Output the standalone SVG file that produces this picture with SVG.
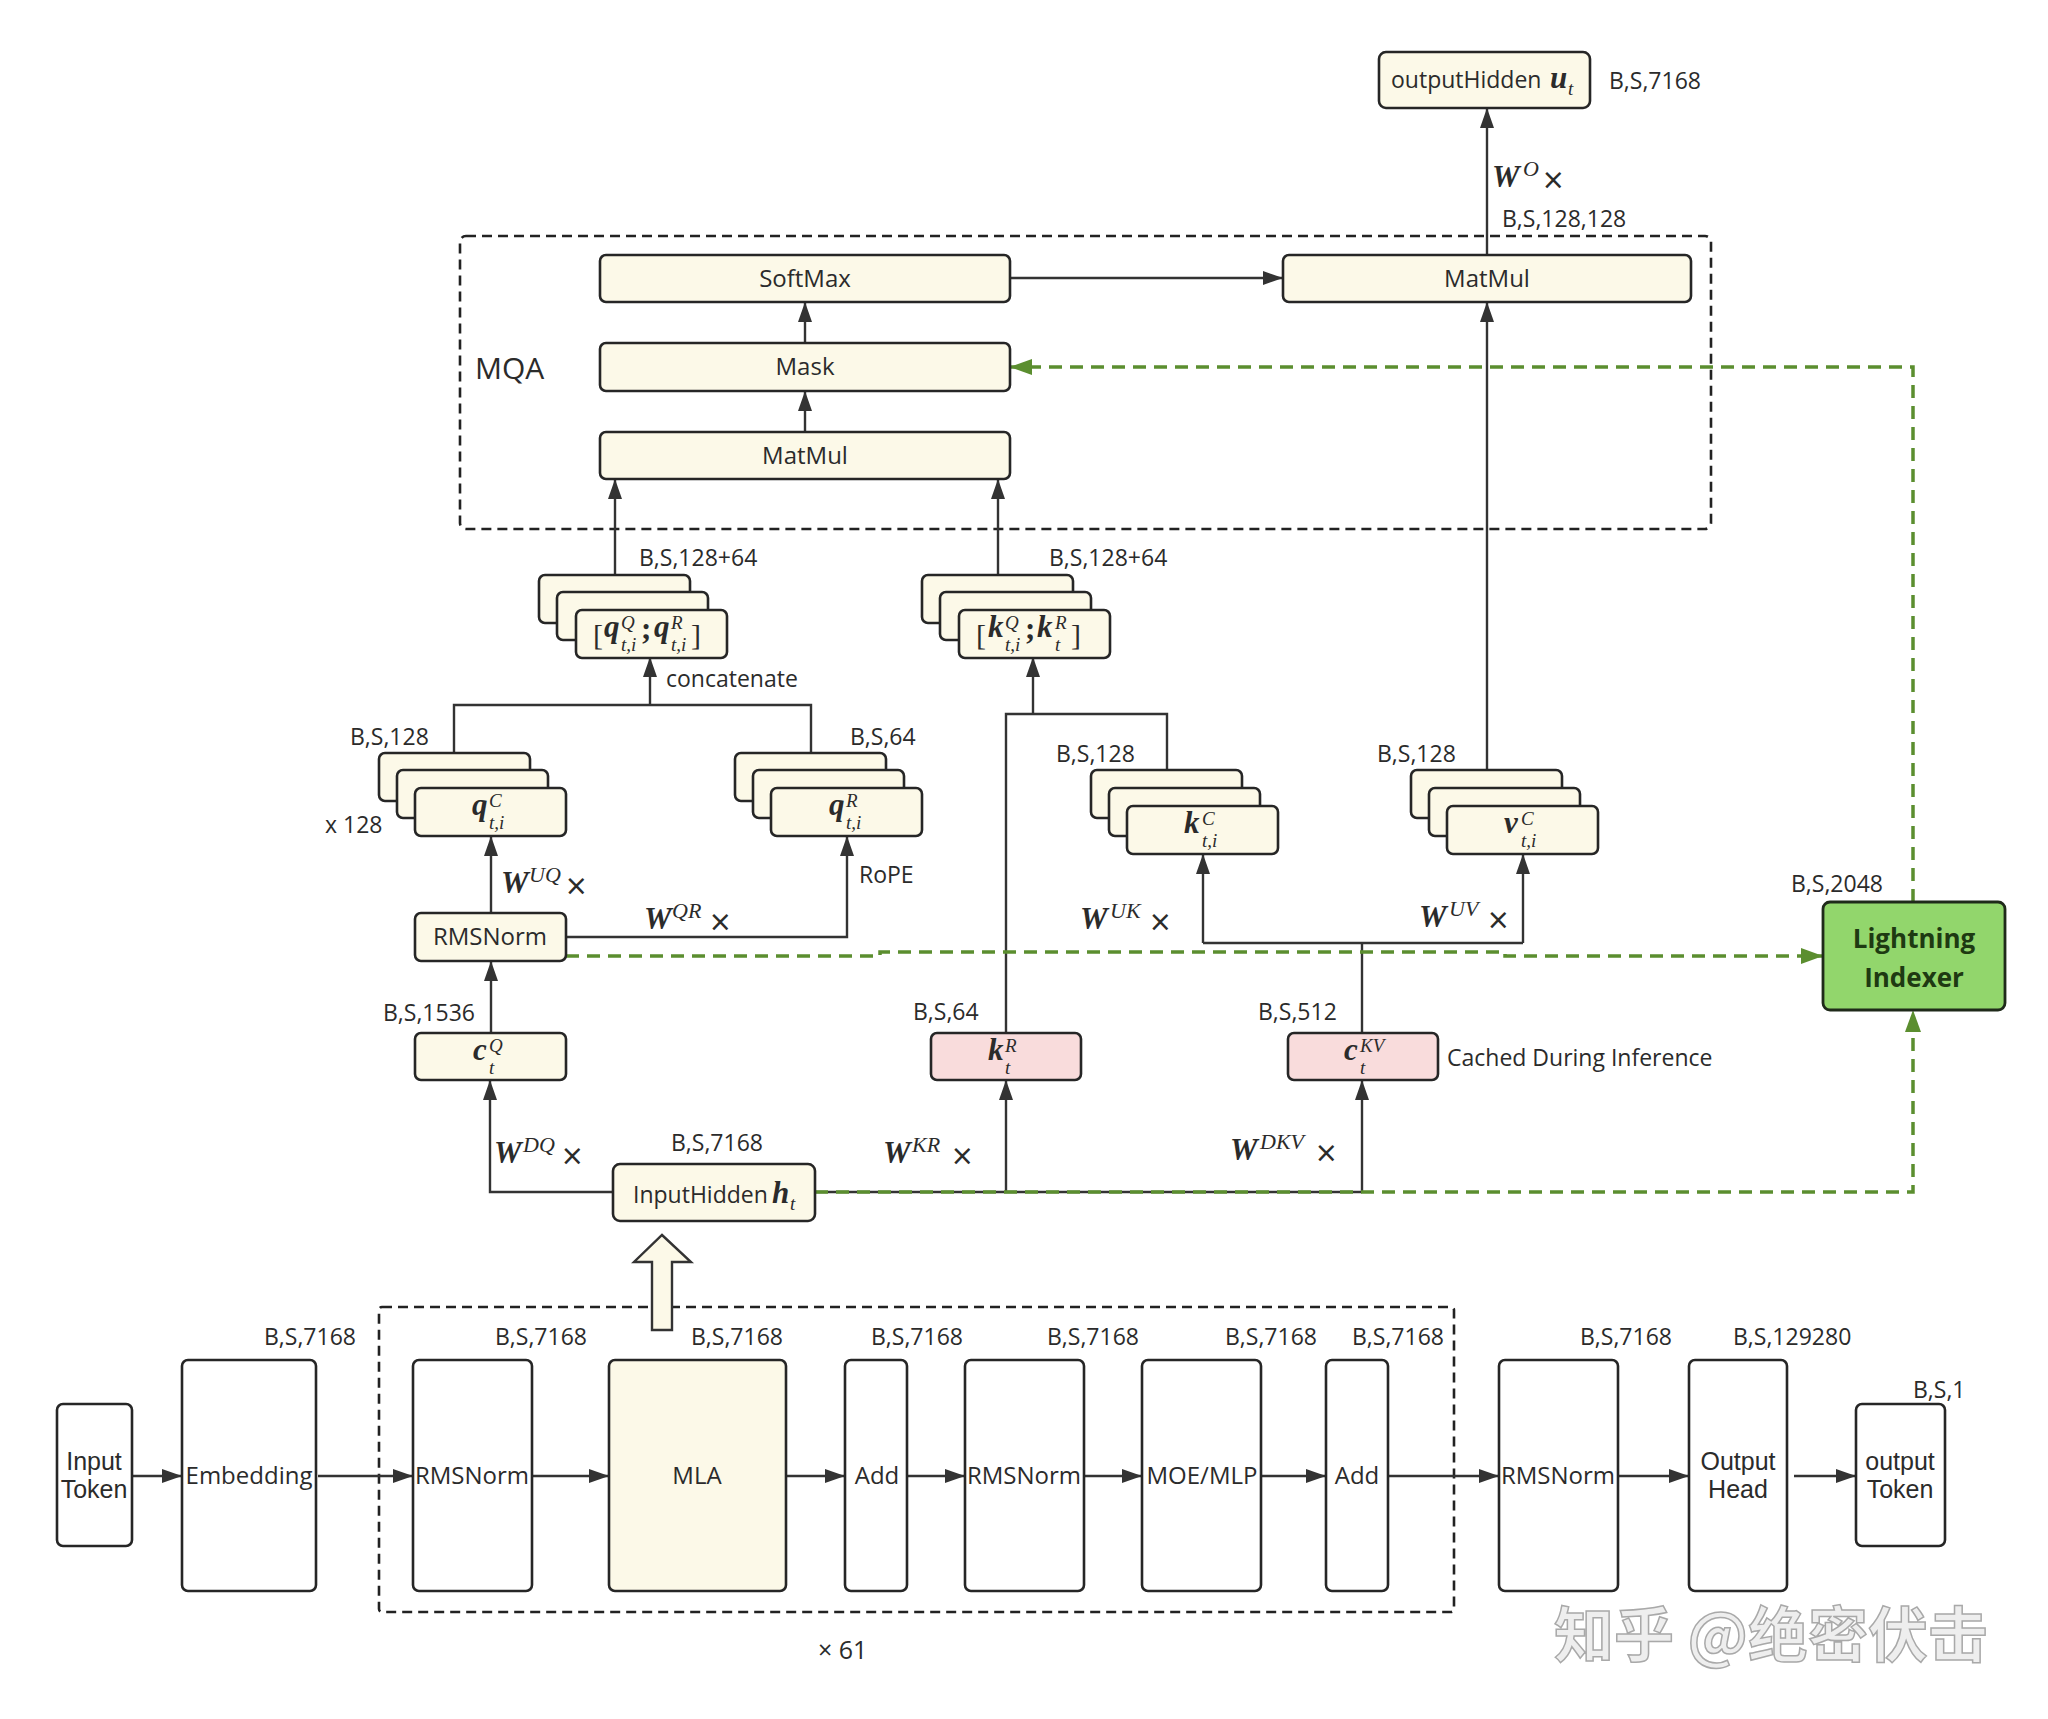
<svg xmlns="http://www.w3.org/2000/svg" width="2048" height="1719" viewBox="0 0 2048 1719">
<style>
.box{fill:#fcf9e8;stroke:#262626;stroke-width:2.6}
.wbox{fill:#ffffff;stroke:#262626;stroke-width:2.6}
.pbox{fill:#f9dcdc;stroke:#262626;stroke-width:2.6}
.gbox{fill:#92d66c;stroke:#1f2a1a;stroke-width:2.8}
.ln{fill:none;stroke:#333;stroke-width:2.4}
.ar{fill:none;stroke:#333;stroke-width:2.4;marker-end:url(#arr)}
.gda{fill:none;stroke:#5b8e2f;stroke-width:3.5;stroke-dasharray:13 8;marker-end:url(#garr)}
.dash{fill:none;stroke:#222;stroke-width:2.6;stroke-dasharray:10 6}
text{font-family:"Open Sans","Noto Sans","Liberation Sans",sans-serif;fill:#2b2b2b}
.t{font-size:23px}
.tb{font-size:24px;text-anchor:middle}
.t2{font-family:"Liberation Sans","Open Sans",sans-serif;font-size:25px;text-anchor:middle}
.mqa{font-size:30px}
.li{font-size:26px;font-weight:bold;text-anchor:middle;fill:#1e3a12}
.mb{font-family:"Liberation Serif","DejaVu Serif",serif;font-weight:bold;font-style:italic;font-size:31px}
.mi{font-family:"Liberation Serif","DejaVu Serif",serif;font-weight:normal;font-style:italic;font-size:19px}
.mr{font-family:"Liberation Serif","DejaVu Serif",serif;font-weight:normal;font-style:normal;font-size:30px}
.W{font-family:"Liberation Serif","DejaVu Serif",serif;font-weight:bold;font-style:italic;font-size:31px}
.ws{font-family:"Liberation Serif","DejaVu Serif",serif;font-weight:normal;font-style:italic;font-size:22px}
.x{font-family:"Open Sans","Noto Sans",sans-serif;font-weight:normal;font-style:normal;font-size:36px}
.wm{font-family:"Noto Sans CJK SC","Noto Sans",sans-serif;font-size:60px;font-weight:bold;fill:#eeeeee;stroke:#a9a9a9;stroke-width:1.5}
</style>
<defs>
<marker id="arr" viewBox="0 0 20 14" refX="20" refY="7" markerWidth="20" markerHeight="14" markerUnits="userSpaceOnUse" orient="auto"><path d="M0,0 L20,7 L0,14 Z" fill="#333"/></marker>
<marker id="garr" viewBox="0 0 22 16" refX="22" refY="8" markerWidth="22" markerHeight="16" markerUnits="userSpaceOnUse" orient="auto"><path d="M0,0 L22,8 L0,16 Z" fill="#5b8e2f"/></marker>
</defs>
<rect width="2048" height="1719" fill="#ffffff"/>

<g id="mqa-frame">
<rect class="dash" x="460" y="236" width="1251" height="293" rx="6"/>
<text class="mqa" x="475" y="379">MQA</text>
</g>
<g id="layer-frame">
<rect class="dash" x="379" y="1307" width="1075" height="305" rx="3"/>
<text class="t" x="818" y="1659" style="font-size:25px">× 61</text>
</g>

<g id="connectors">
<path class="ar" d="M1487,255 V108"/>
<path class="ar" d="M1010,278 H1283"/>
<path class="ar" d="M805,343 V302"/>
<path class="ar" d="M805,432 V391"/>
<path class="ar" d="M615,575 V479"/>
<path class="ar" d="M998,575 V479"/>
<path class="ln" d="M454,754 V705 H811 V754"/>
<path class="ar" d="M650,705 V657"/>
<path class="ar" d="M491,913 V836"/>
<path class="ar" d="M566,937 H847 V836"/>
<path class="ar" d="M491,1033 V961"/>
<path class="ar" d="M613,1192 H490 V1080"/>
<path class="ln" d="M815,1192 H1362"/>
<path class="ar" d="M1006,1192 V1080"/>
<path class="ar" d="M1362,1192 V1080"/>
<path class="ln" d="M1006,1033 V714 H1167 V771"/>
<path class="ar" d="M1033,714 V657"/>
<path class="ln" d="M1362,1033 V943"/>
<path class="ln" d="M1203,943 H1523"/>
<path class="ar" d="M1203,943 V854"/>
<path class="ar" d="M1523,943 V854"/>
<path class="ar" d="M1487,771 V302"/>
<path class="gda" d="M566,956 H880 V952 H1505 V956 H1823"/>
<path class="gda" d="M815,1192 H1913 V1010"/>
<path class="gda" d="M1913,902 V367 H1010"/>
<polygon points="662,1235 691,1262 672,1262 672,1330 652,1330 652,1262 634,1262" fill="#fcf9e8" stroke="#333" stroke-width="2.4"/>
<path class="ar" d="M131,1476 H182"/>
<path class="ar" d="M318,1476 H413"/>
<path class="ar" d="M532,1476 H609"/>
<path class="ar" d="M786,1476 H845"/>
<path class="ar" d="M907,1476 H965"/>
<path class="ar" d="M1084,1476 H1142"/>
<path class="ar" d="M1261,1476 H1326"/>
<path class="ar" d="M1388,1476 H1499"/>
<path class="ar" d="M1618,1476 H1689"/>
<path class="ar" d="M1794,1476 H1856"/>
<text class="W" x="1492" y="187">W<tspan class="ws" x="1523" y="176">O</tspan><tspan class="x" x="1543" y="193">×</tspan></text>
<text class="W" x="501" y="893">W<tspan class="ws" x="529" y="882">UQ</tspan><tspan class="x" x="566" y="899">×</tspan></text>
<text class="W" x="644" y="929">W<tspan class="ws" x="672" y="918">QR</tspan><tspan class="x" x="710" y="935">×</tspan></text>
<text class="W" x="1080" y="929">W<tspan class="ws" x="1110" y="918">UK</tspan><tspan class="x" x="1150" y="935">×</tspan></text>
<text class="W" x="1419" y="927">W<tspan class="ws" x="1449" y="916">UV</tspan><tspan class="x" x="1488" y="933">×</tspan></text>
<text class="W" x="494" y="1163">W<tspan class="ws" x="523" y="1152">DQ</tspan><tspan class="x" x="562" y="1169">×</tspan></text>
<text class="W" x="883" y="1163">W<tspan class="ws" x="912" y="1152">KR</tspan><tspan class="x" x="952" y="1169">×</tspan></text>
<text class="W" x="1230" y="1160">W<tspan class="ws" x="1260" y="1149">DKV</tspan><tspan class="x" x="1316" y="1166">×</tspan></text>
<text class="t" x="666" y="687">concatenate</text>
<text class="t" x="859" y="883">RoPE</text>
</g>

<g id="outputHidden">
<rect class="box" x="1379" y="52" width="211" height="56" rx="7"/>
<text class="t" x="1391" y="88">outputHidden<tspan class="mb" x="1550" y="88">u</tspan><tspan class="mi" x="1568" y="95">t</tspan></text>
<text class="t" x="1609" y="89">B,S,7168</text>
<text class="t" x="1502" y="227">B,S,128,128</text>
</g>

<g id="softmax"><rect class="box" x="600" y="255" width="410" height="47" rx="6"/><text class="tb" x="805" y="287">SoftMax</text></g>
<g id="mask"><rect class="box" x="600" y="343" width="410" height="48" rx="6"/><text class="tb" x="805" y="375">Mask</text></g>
<g id="matmul-qk"><rect class="box" x="600" y="432" width="410" height="47" rx="6"/><text class="tb" x="805" y="464">MatMul</text></g>
<g id="matmul-v"><rect class="box" x="1283" y="255" width="408" height="47" rx="6"/><text class="tb" x="1487" y="287">MatMul</text></g>

<g id="q-concat">
<rect class="box" x="539" y="575" width="151" height="48" rx="6"/>
<rect class="box" x="557" y="592" width="151" height="48" rx="6"/>
<rect class="box" x="576" y="610" width="151" height="48" rx="6"/>
<text class="mr" x="593" y="645">[<tspan class="mb" x="604" y="637">q</tspan><tspan class="mi" x="621" y="629">Q</tspan><tspan class="mi" x="621" y="651">t,i</tspan><tspan class="mb" x="641" y="639" style="font-style:normal">;</tspan><tspan class="mb" x="654" y="637">q</tspan><tspan class="mi" x="671" y="629">R</tspan><tspan class="mi" x="671" y="651">t,i</tspan><tspan x="691" y="645">]</tspan></text>
<text class="t" x="639" y="566">B,S,128+64</text>
</g>

<g id="k-concat">
<rect class="box" x="922" y="575" width="151" height="48" rx="6"/>
<rect class="box" x="940" y="592" width="151" height="48" rx="6"/>
<rect class="box" x="959" y="610" width="151" height="48" rx="6"/>
<text class="mr" x="976" y="645">[<tspan class="mb" x="988" y="637">k</tspan><tspan class="mi" x="1005" y="629">Q</tspan><tspan class="mi" x="1005" y="651">t,i</tspan><tspan class="mb" x="1025" y="639" style="font-style:normal">;</tspan><tspan class="mb" x="1037" y="637">k</tspan><tspan class="mi" x="1055" y="629">R</tspan><tspan class="mi" x="1055" y="651">t</tspan><tspan x="1071" y="645">]</tspan></text>
<text class="t" x="1049" y="566">B,S,128+64</text>
</g>

<g id="qC">
<rect class="box" x="379" y="753" width="151" height="48" rx="6"/>
<rect class="box" x="397" y="770" width="151" height="48" rx="6"/>
<rect class="box" x="415" y="788" width="151" height="48" rx="6"/>
<text class="mb" x="472" y="815">q<tspan class="mi" x="489" y="807">C</tspan><tspan class="mi" x="489" y="829">t,i</tspan></text>
<text class="t" x="350" y="745">B,S,128</text>
<text class="t" x="325" y="833">x 128</text>
</g>

<g id="qR">
<rect class="box" x="735" y="753" width="151" height="48" rx="6"/>
<rect class="box" x="753" y="770" width="151" height="48" rx="6"/>
<rect class="box" x="771" y="788" width="151" height="48" rx="6"/>
<text class="mb" x="829" y="815">q<tspan class="mi" x="846" y="807">R</tspan><tspan class="mi" x="846" y="829">t,i</tspan></text>
<text class="t" x="850" y="745">B,S,64</text>
</g>

<g id="kC">
<rect class="box" x="1091" y="770" width="151" height="48" rx="6"/>
<rect class="box" x="1109" y="788" width="151" height="48" rx="6"/>
<rect class="box" x="1127" y="806" width="151" height="48" rx="6"/>
<text class="mb" x="1184" y="833">k<tspan class="mi" x="1202" y="825">C</tspan><tspan class="mi" x="1202" y="847">t,i</tspan></text>
<text class="t" x="1056" y="762">B,S,128</text>
</g>

<g id="vC">
<rect class="box" x="1411" y="770" width="151" height="48" rx="6"/>
<rect class="box" x="1429" y="788" width="151" height="48" rx="6"/>
<rect class="box" x="1447" y="806" width="151" height="48" rx="6"/>
<text class="mb" x="1504" y="833">v<tspan class="mi" x="1521" y="825">C</tspan><tspan class="mi" x="1521" y="847">t,i</tspan></text>
<text class="t" x="1377" y="762">B,S,128</text>
</g>

<g id="rmsnorm-q">
<rect class="box" x="415" y="913" width="151" height="48" rx="6"/>
<text class="tb" x="490" y="945">RMSNorm</text>
</g>

<g id="cQ">
<rect class="box" x="415" y="1033" width="151" height="47" rx="6"/>
<text class="mb" x="473" y="1060">c<tspan class="mi" x="489" y="1052">Q</tspan><tspan class="mi" x="489" y="1074">t</tspan></text>
<text class="t" x="383" y="1021">B,S,1536</text>
</g>

<g id="kR">
<rect class="pbox" x="931" y="1033" width="150" height="47" rx="6"/>
<text class="mb" x="988" y="1060">k<tspan class="mi" x="1005" y="1052">R</tspan><tspan class="mi" x="1005" y="1074">t</tspan></text>
<text class="t" x="913" y="1020">B,S,64</text>
</g>

<g id="cKV">
<rect class="pbox" x="1288" y="1033" width="150" height="47" rx="6"/>
<text class="mb" x="1344" y="1060">c<tspan class="mi" x="1360" y="1052">KV</tspan><tspan class="mi" x="1360" y="1074">t</tspan></text>
<text class="t" x="1258" y="1020">B,S,512</text>
<text class="t" x="1447" y="1066">Cached During Inference</text>
</g>

<g id="lightning-indexer">
<rect class="gbox" x="1823" y="902" width="182" height="108" rx="7"/>
<text class="li" x="1914" y="948">Lightning<tspan x="1914" dy="39">Indexer</tspan></text>
<text class="t" x="1791" y="892">B,S,2048</text>
</g>

<g id="inputHidden">
<rect class="box" x="613" y="1164" width="202" height="57" rx="7"/>
<text class="t" x="633" y="1203">InputHidden<tspan class="mb" x="772" y="1203">h</tspan><tspan class="mi" x="790" y="1210">t</tspan></text>
<text class="t" x="671" y="1151">B,S,7168</text>
</g>

<g id="input-token"><rect class="wbox" x="57" y="1404" width="75" height="142" rx="6"/><text class="t2" x="94" y="1470">Input<tspan x="94" dy="28">Token</tspan></text></g>
<g id="embedding"><rect class="wbox" x="182" y="1360" width="134" height="231" rx="6"/><text class="tb" x="249" y="1484">Embedding</text><text class="t" x="264" y="1345">B,S,7168</text></g>
<g id="rmsnorm-1"><rect class="wbox" x="413" y="1360" width="119" height="231" rx="6"/><text class="tb" x="472" y="1484">RMSNorm</text><text class="t" x="495" y="1345">B,S,7168</text></g>
<g id="mla"><rect class="box" x="609" y="1360" width="177" height="231" rx="6"/><text class="tb" x="697" y="1484">MLA</text><text class="t" x="691" y="1345">B,S,7168</text></g>
<g id="add-1"><rect class="wbox" x="845" y="1360" width="62" height="231" rx="6"/><text class="tb" x="877" y="1484">Add</text><text class="t" x="871" y="1345">B,S,7168</text></g>
<g id="rmsnorm-2"><rect class="wbox" x="965" y="1360" width="119" height="231" rx="6"/><text class="tb" x="1024" y="1484">RMSNorm</text><text class="t" x="1047" y="1345">B,S,7168</text></g>
<g id="moe"><rect class="wbox" x="1142" y="1360" width="119" height="231" rx="6"/><text class="tb" x="1202" y="1484">MOE/MLP</text><text class="t" x="1225" y="1345">B,S,7168</text></g>
<g id="add-2"><rect class="wbox" x="1326" y="1360" width="62" height="231" rx="6"/><text class="tb" x="1357" y="1484">Add</text><text class="t" x="1352" y="1345">B,S,7168</text></g>
<g id="rmsnorm-3"><rect class="wbox" x="1499" y="1360" width="119" height="231" rx="6"/><text class="tb" x="1558" y="1484">RMSNorm</text><text class="t" x="1580" y="1345">B,S,7168</text></g>
<g id="output-head"><rect class="wbox" x="1689" y="1360" width="98" height="231" rx="6"/><text class="t2" x="1738" y="1470">Output<tspan x="1738" dy="28">Head</tspan></text><text class="t" x="1733" y="1345">B,S,129280</text></g>
<g id="output-token"><rect class="wbox" x="1856" y="1404" width="89" height="142" rx="6"/><text class="t2" x="1900" y="1470">output<tspan x="1900" dy="28">Token</tspan></text><text class="t" x="1913" y="1398">B,S,1</text></g>

<text class="wm" x="1554" y="1657">知乎 @绝密伏击</text>
</svg>
